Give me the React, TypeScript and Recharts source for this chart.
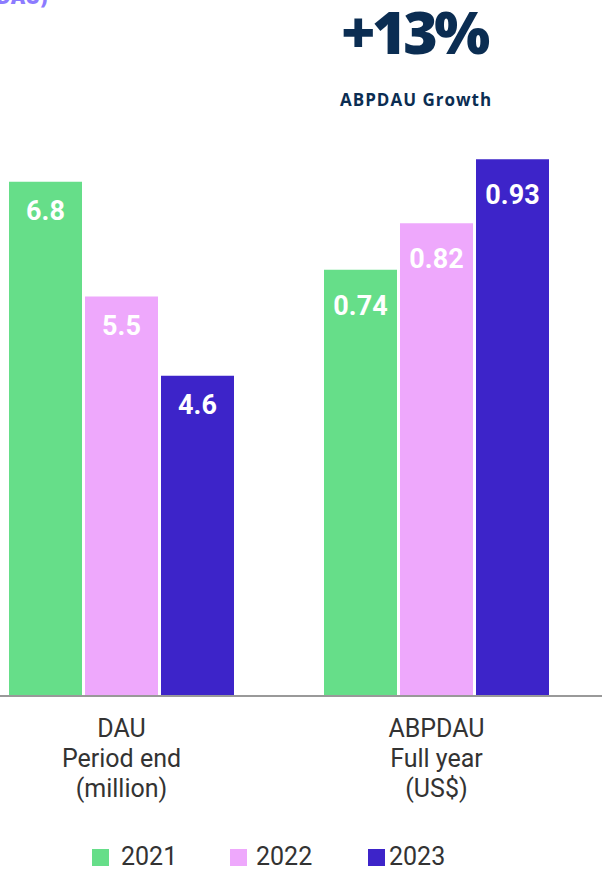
import React from 'react';
import { BarChart, Bar, XAxis, YAxis, LabelList, Legend } from 'recharts';

const years = ['2021', '2022', '2023'];
const colors = ['#66DE89', '#EEA8FC', '#3D24C9'];

const dauCategory = ['DAU\nPeriod end\n(million)'];
const dauValues = [6.8, 5.5, 4.6];

const abpdauCategory = ['ABPDAU\nFull year\n(US$)'];
const abpdauValues = [0.74, 0.82, 0.93];

const headline = '+13%';
const headlineCaption = 'ABPDAU Growth';
const clippedTitle = 'DAU)';

const dauData = dauCategory.map((c) => {
  const row: any = { cat: c };
  years.forEach((y, i) => (row[y] = dauValues[i]));
  return row;
});
const abpdauData = abpdauCategory.map((c) => {
  const row: any = { cat: c };
  years.forEach((y, i) => (row[y] = abpdauValues[i]));
  return row;
});

const MultiTick = (props: any) => {
  const { x, y, payload } = props;
  const lines = String(payload.value).split('\n');
  return (
    <g>
      {lines.map((l, i) => (
        <text
          key={i}
          x={x}
          y={y + 41 + i * 30}
          textAnchor="middle"
          fontFamily="Roboto"
          fontSize={25}
          fill="#333333"
        >
          {l}
        </text>
      ))}
    </g>
  );
};

const legendGaps = [12, 9, 4];
const LegendContent = () => (
  <div style={{ position: 'relative', width: 602, height: 30 }}>
    {years.map((y, i) => (
      <div
        key={y}
        style={{
          position: 'absolute',
          left: 92 + i * 138,
          top: 0,
          height: 30,
          display: 'flex',
          alignItems: 'center',
        }}
      >
        <span style={{ display: 'inline-block', width: 17, height: 17, background: colors[i] }} />
        <span
          style={{
            marginLeft: legendGaps[i],
            fontFamily: 'Roboto',
            fontSize: 25,
            color: '#333333',
            lineHeight: '30px',
          }}
        >
          {y}
        </span>
      </div>
    ))}
  </div>
);

export default function App() {
  return (
    <div
      style={{
        position: 'absolute',
        left: 0,
        top: 0,
        width: 602,
        height: 872,
        background: '#ffffff',
        overflow: 'hidden',
      }}
    >
      <div
        style={{
          position: 'absolute',
          left: -4,
          top: -15,
          fontFamily: 'Open Sans',
          fontWeight: 800,
          fontSize: 20,
          color: '#8C7BFF',
          lineHeight: '24px',
        }}
      >
        {clippedTitle}
      </div>
      <div
        style={{
          position: 'absolute',
          left: 341,
          top: 1,
          fontFamily: 'Open Sans',
          fontWeight: 800,
          fontSize: 59,
          letterSpacing: -3.5,
          color: '#0B2D52',
          lineHeight: '60px',
        }}
      >
        {headline}
      </div>
      <div
        style={{
          position: 'absolute',
          left: 340,
          top: 89,
          fontFamily: 'Open Sans',
          fontWeight: 700,
          fontSize: 17,
          letterSpacing: 1,
          color: '#0B2D52',
          lineHeight: '22px',
        }}
      >
        {headlineCaption}
      </div>

      <div style={{ position: 'absolute', left: 0, top: 0 }}>
        <BarChart
          width={266}
          height={872}
          data={dauData}
          margin={{ top: 150, right: 0, bottom: 0, left: 0 }}
          barCategoryGap={9}
          barGap={3}
        >
          <XAxis
            dataKey="cat"
            height={146}
            padding={{ left: 0, right: 23 }}
            tickLine={false}
            tickSize={0}
            tickMargin={0}
            axisLine={{ stroke: '#999999', strokeWidth: 2 }}
            tick={<MultiTick />}
            interval={0}
          />
          <YAxis hide domain={[0.97, 7.16]} allowDataOverflow />
          <Legend
            verticalAlign="bottom"
            height={30}
            content={<LegendContent />}
            wrapperStyle={{ left: 0, width: 602, height: 30 }}
          />
          {years.map((y, i) => (
            <Bar key={y} dataKey={y} fill={colors[i]} isAnimationActive={false}>
              <LabelList
                dataKey={y}
                position="insideTop"
                offset={19}
                fill="#ffffff"
                fontFamily="Roboto"
                fontWeight={700}
                fontSize={27}
              />
            </Bar>
          ))}
        </BarChart>
      </div>

      <div style={{ position: 'absolute', left: 266, top: 0 }}>
        <BarChart
          width={336}
          height={872}
          data={abpdauData}
          margin={{ top: 150, right: 0, bottom: 30, left: 0 }}
          barCategoryGap={9}
          barGap={3}
        >
          <XAxis
            dataKey="cat"
            height={146}
            padding={{ left: 49, right: 44 }}
            tickLine={false}
            tickSize={0}
            tickMargin={0}
            axisLine={{ stroke: '#999999', strokeWidth: 2 }}
            tick={<MultiTick />}
            interval={0}
          />
          <YAxis hide domain={[0.006, 0.946]} allowDataOverflow />
          {years.map((y, i) => (
            <Bar key={y} dataKey={y} fill={colors[i]} isAnimationActive={false}>
              <LabelList
                dataKey={y}
                position="insideTop"
                offset={26}
                fill="#ffffff"
                fontFamily="Roboto"
                fontWeight={700}
                fontSize={27}
              />
            </Bar>
          ))}
        </BarChart>
      </div>
    </div>
  );
}
